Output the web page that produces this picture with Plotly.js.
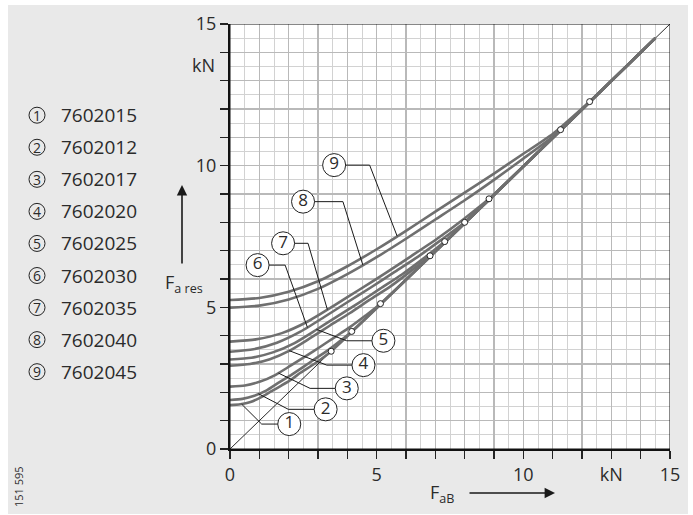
<!DOCTYPE html>
<html>
<head>
<meta charset="utf-8">
<script src="https://cdn.plot.ly/plotly-3.0.1.min.js"></script>
<style>
  html, body { margin: 0; padding: 0; background: #ffffff; }
  #chart { position: absolute; left: 8px; top: 5px; width: 680px; height: 509px; }
</style>
</head>
<body>
<div id="chart"></div>
<script>
// ---------------- data ----------------
const curveLabels = ['1', '2', '3', '4', '5', '6', '7', '8', '9'];
const partNumbers = ['7602015', '7602012', '7602017', '7602020', '7602025',
                     '7602030', '7602035', '7602040', '7602045'];

const c1x = [0, 0.35, 0.7, 1.05, 1.4, 1.75, 2.1, 2.4, 2.75, 3.1, 3.45, 14.5];
const c1y = [1.55, 1.58, 1.66, 1.82, 2.03, 2.24, 2.46, 2.69, 2.92, 3.17, 3.45, 14.5];
const c2x = [0, 0.42, 0.83, 1.25, 1.66, 2.08, 2.49, 2.9, 3.32, 3.74, 4.15, 14.5];
const c2y = [1.73, 1.77, 1.88, 2.07, 2.34, 2.61, 2.89, 3.18, 3.47, 3.80, 4.15, 14.5];
const c3x = [0, 0.51, 1.03, 1.54, 2.05, 2.57, 3.08, 3.59, 4.1, 4.62, 5.13, 14.5];
const c3y = [2.2, 2.24, 2.38, 2.61, 2.93, 3.27, 3.61, 3.96, 4.31, 4.71, 5.13, 14.5];
const c4x = [0, 0.68, 1.36, 2.05, 2.73, 3.41, 4.09, 4.77, 5.46, 6.14, 6.82, 14.5];
const c4y = [2.94, 3.0, 3.17, 3.48, 3.91, 4.36, 4.80, 5.27, 5.73, 6.26, 6.82, 14.5];
const c5x = [0, 0.73, 1.46, 2.2, 2.93, 3.66, 4.39, 5.12, 5.86, 6.59, 7.32, 14.5];
const c5y = [3.16, 3.22, 3.41, 3.74, 4.2, 4.68, 5.16, 5.66, 6.16, 6.72, 7.32, 14.5];
const c6x = [0, 0.8, 1.6, 2.4, 3.2, 4.0, 4.8, 5.6, 6.4, 7.2, 8.0, 14.5];
const c6y = [3.43, 3.52, 3.75, 4.14, 4.65, 5.18, 5.7, 6.24, 6.78, 7.38, 8.0, 14.5];
const c7x = [0, 0.88, 1.77, 2.65, 3.53, 4.42, 5.3, 6.18, 7.06, 7.95, 8.83, 14.5];
const c7y = [3.79, 3.87, 4.09, 4.5, 5.05, 5.63, 6.21, 6.81, 7.42, 8.1, 8.83, 14.5];
const c8x = [0, 1, 2, 3, 4, 5, 6, 7, 8, 9, 10, 11, 11.27, 14.5];
const c8y = [4.99, 5.06, 5.28, 5.65, 6.17, 6.77, 7.42, 8.1, 8.78, 9.5, 10.25, 11.02, 11.27, 14.5];
const c9x = [0, 1, 2, 3, 4, 5, 6, 7, 8, 9, 10, 11, 12, 12.26, 14.5];
const c9y = [5.26, 5.33, 5.55, 5.92, 6.45, 7.05, 7.7, 8.38, 9.05, 9.72, 10.42, 11.12, 12.02, 12.26, 14.5];

// points where each curve meets the line F_a res = F_aB
const liftOff = [3.45, 4.15, 5.13, 6.82, 7.32, 8.0, 8.83, 11.27, 12.26];

// reference line F_a res = F_aB
const diagX = [0, 15];
const diagY = [0, 15];

const xTickVals = [0,1,2,3,4,5,6,7,8,9,10,11,12,13,14,15];
const xTickText = ['0','','','','','5','','','','','10','','','kN','','15'];
const yTickVals = [0,1,2,3,4,5,6,7,8,9,10,11,12,13,14,15];
const yTickText = ['0','','','','','5','','','','','10','','','','','15'];

// ---------------- label placement (layout) ----------------
const labelPos = [[2.02,0.88],[3.26,1.40],[3.98,2.14],[4.55,2.96],[5.23,3.82],
                  [0.94,6.49],[1.81,7.26],[2.49,8.73],[3.55,10.02]];
const leaderElbow = [[1.08,0.88],[1.99,1.40],[2.73,2.14],[3.3,2.96],[3.98,3.82],
                     [1.88,6.49],[2.66,7.26],[3.85,8.73],[4.76,10.02]];
const leaderEnd = [[0.4,1.58],[0.97,1.95],[1.65,2.68],[2.02,3.47],[2.95,4.22],
                   [2.64,4.29],[3.32,4.92],[4.53,6.49],[5.7,7.51]];

const curvesX = [c1x,c2x,c3x,c4x,c5x,c6x,c7x,c8x,c9x];
const curvesY = [c1y,c2y,c3y,c4y,c5y,c6y,c7y,c8y,c9y];

const FONT = '"Open Sans", "DejaVu Sans", sans-serif';
const TXT = '#2b2b2b';
const CURVE = '#6f6f6f';

const traces = [];
traces.push({x: diagX, y: diagY, mode: 'lines', line: {color: '#111', width: 0.9},
             hoverinfo: 'skip', showlegend: false});
for (let i = 0; i < 9; i++) {
  traces.push({x: curvesX[i], y: curvesY[i], mode: 'lines',
               line: {color: CURVE, width: 2.6, shape: 'spline', smoothing: 0.6},
               hoverinfo: 'skip', showlegend: false});
}
traces.push({x: liftOff, y: liftOff, mode: 'markers',
             marker: {symbol: 'circle', size: 6, color: '#ffffff', line: {color: '#222', width: 1}},
             hoverinfo: 'skip', showlegend: false});
for (let i = 0; i < 9; i++) {
  traces.push({x: [labelPos[i][0], leaderElbow[i][0], leaderEnd[i][0]],
               y: [labelPos[i][1], leaderElbow[i][1], leaderEnd[i][1]],
               mode: 'lines', line: {color: '#1a1a1a', width: 1},
               hoverinfo: 'skip', showlegend: false});
}
traces.push({x: labelPos.map(p => p[0]), y: labelPos.map(p => p[1]), mode: 'markers+text',
             text: curveLabels, textposition: 'middle center',
             textfont: {family: FONT, size: 17, color: TXT},
             marker: {symbol: 'circle', size: 23, color: '#ffffff', line: {color: '#222', width: 1}},
             hoverinfo: 'skip', showlegend: false, cliponaxis: false});

// plot-area geometry in page pixels (for paper conversion)
const PL = 230, PR = 670, PT = 24, PB = 449;
const px = X => (X - PL) / (PR - PL);
const py = Y => (PB - Y) / (PB - PT);

const shapes = [{type: 'rect', xref: 'x', yref: 'y', x0: 0, x1: 15, y0: 0, y1: 15,
                 line: {color: '#111', width: 1}, layer: 'above'}];
const annotations = [];
for (let i = 0; i < 9; i++) {
  const cy = 115.2 + 32.06 * i;
  const cx = 37, r = 8;
  shapes.push({type: 'circle', xref: 'paper', yref: 'paper',
               x0: px(cx - r), x1: px(cx + r), y0: py(cy + r), y1: py(cy - r),
               line: {color: '#222', width: 1}});
  annotations.push({xref: 'paper', yref: 'paper', x: px(cx), y: py(cy), text: curveLabels[i],
                    showarrow: false, xanchor: 'center', yanchor: 'middle',
                    font: {family: FONT, size: 14, color: TXT}});
  annotations.push({xref: 'paper', yref: 'paper', x: px(59), y: py(cy), text: partNumbers[i],
                    showarrow: false, xanchor: 'left', yanchor: 'middle',
                    font: {family: FONT, size: 19, color: TXT}});
}
annotations.push({xref: 'paper', yref: 'paper', x: px(217), y: py(65), text: 'kN',
                  showarrow: false, xanchor: 'right', yanchor: 'middle',
                  font: {family: FONT, size: 18, color: TXT}});
annotations.push({xref: 'paper', yref: 'paper', x: px(184), y: py(283), text: 'F<sub>a res</sub>',
                  showarrow: false, xanchor: 'center', yanchor: 'middle',
                  font: {family: FONT, size: 18, color: TXT}});
annotations.push({xref: 'paper', yref: 'paper', x: px(182), y: py(185), text: '',
                  showarrow: true, ax: 0, ay: 80, arrowhead: 2, arrowsize: 1.3, arrowwidth: 1.6,
                  arrowcolor: '#1a1a1a', standoff: 0, startstandoff: 0});
annotations.push({xref: 'paper', yref: 'paper', x: px(442), y: py(493), text: 'F<sub>aB</sub>',
                  showarrow: false, xanchor: 'center', yanchor: 'middle',
                  font: {family: FONT, size: 18, color: TXT}});
annotations.push({xref: 'paper', yref: 'paper', x: px(555), y: py(493), text: '',
                  showarrow: true, ax: -87, ay: 0, arrowhead: 2, arrowsize: 1.3, arrowwidth: 1.6,
                  arrowcolor: '#1a1a1a', standoff: 0, startstandoff: 0});
annotations.push({xref: 'paper', yref: 'paper', x: px(18), y: py(487), text: '151 595',
                  showarrow: false, textangle: -90, xanchor: 'center', yanchor: 'middle',
                  font: {family: FONT, size: 11, color: TXT}});

const axisCommon = {
  range: [0, 15], tickmode: 'array', ticks: 'outside', ticklen: 8, tickwidth: 1.2,
  tickcolor: '#222', showline: true, linecolor: '#111', linewidth: 2,
  showgrid: true, gridcolor: '#b9b9b9', gridwidth: 1.3, zeroline: false,
  tickfont: {family: FONT, size: 18, color: TXT}, fixedrange: true,
  minor: {tickmode: 'linear', tick0: 0, dtick: 0.5, showgrid: true,
          gridcolor: '#d2d2d2', gridwidth: 1, ticks: ''}
};

const layout = {
  width: 680, height: 509,
  margin: {l: PL - 8, r: 688 - PR, t: PT - 5, b: 514 - PB, pad: 0},
  paper_bgcolor: '#e9e9e9', plot_bgcolor: '#ffffff',
  showlegend: false,
  xaxis: Object.assign({}, axisCommon, {tickvals: xTickVals, ticktext: xTickText}),
  yaxis: Object.assign({}, axisCommon, {tickvals: yTickVals, ticktext: yTickText}),
  shapes: shapes, annotations: annotations
};

Plotly.newPlot('chart', traces, layout, {displayModeBar: false, staticPlot: true});
</script>
</body>
</html>
